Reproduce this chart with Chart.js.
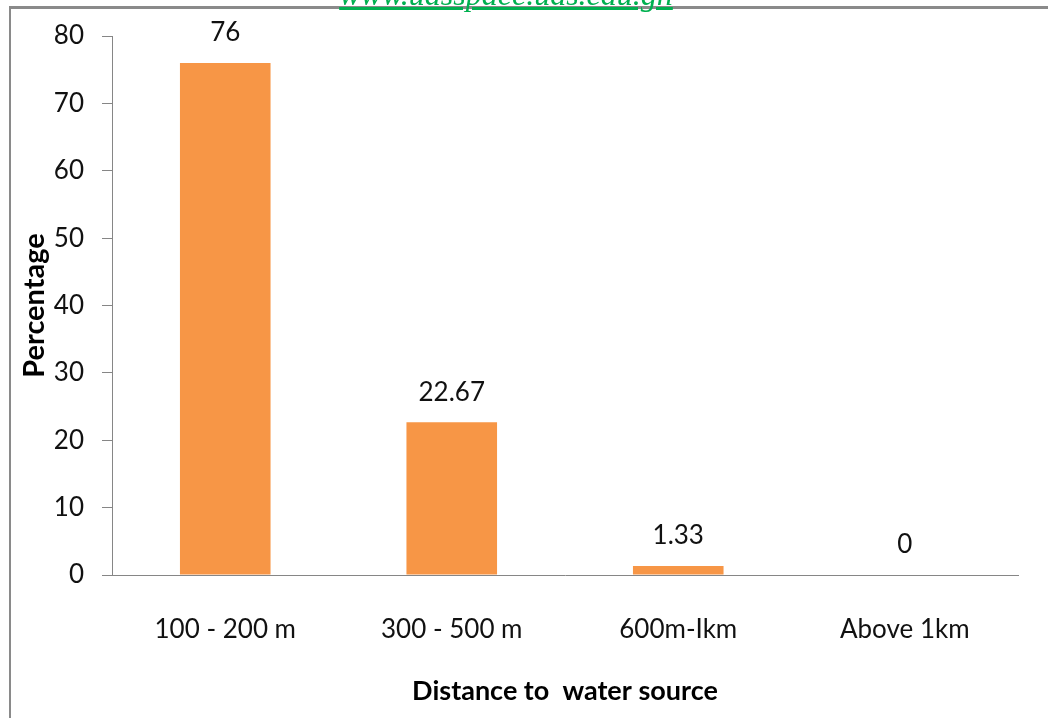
<!DOCTYPE html>
<html>
<head>
<meta charset="utf-8">
<script src="https://cdn.jsdelivr.net/npm/chart.js@4"></script>
<style>
  html, body { margin: 0; padding: 0; background: #fff; }
  #wrap { position: relative; width: 1048px; height: 718px; overflow: hidden; }
  #frame { position: absolute; left: 9px; top: 6px; width: 1100px; height: 800px;
           border-left: 2px solid #8a8a8a; border-top: 3px solid #8a8a8a; }
  #mark { position: absolute; left: 330px; top: -24px; width: 352px; text-align: center;
          font-family: "Liberation Serif", serif; font-style: italic; font-size: 32px;
          color: #00b050; text-decoration: underline; white-space: nowrap; }
</style>
</head>
<body>
<div id="wrap">
  <div id="frame"></div>
  <canvas id="distanceChart" width="1048" height="718"></canvas>
  <div id="mark">www.udsspace.uds.edu.gh</div>
</div>
<script>
// Chart values
const distances = ['100 - 200 m', '300 - 500 m', '600m-Ikm', 'Above 1km'];
const percentages = [76, 22.67, 1.33, 0];
const yTicks = [0, 10, 20, 30, 40, 50, 60, 70, 80];

const fontFamily = 'Lato, "Open Sans", sans-serif';
const axisGrey = '#868686';

// Draw the value above every bar
const valueLabels = {
    id: 'valueLabels',
    afterDatasetsDraw(chart) {
        const ctx = chart.ctx;
        const meta = chart.getDatasetMeta(0);
        ctx.save();
        ctx.font = '26px ' + fontFamily;
        ctx.fillStyle = '#111';
        ctx.textAlign = 'center';
        ctx.textBaseline = 'bottom';
        meta.data.forEach((bar, i) => {
            ctx.fillText(String(percentages[i]), bar.x, bar.y - 17);
        });
        ctx.restore();
    }
};

const ctx = document.getElementById('distanceChart').getContext('2d');
const distanceChart = new Chart(ctx, {
    type: 'bar',
    data: {
        labels: distances,
        datasets: [{
            label: 'Percentage',
            data: percentages,
            backgroundColor: '#f79646',
            borderWidth: 0,
            barPercentage: 0.4,
            categoryPercentage: 1.0
        }]
    },
    options: {
        responsive: false,
        animation: false,
        layout: {
            padding: { left: 10, right: 30, top: 36, bottom: 0 }
        },
        plugins: {
            legend: { display: false },
            tooltip: { enabled: false }
        },
        scales: {
            y: {
                min: 0,
                max: 80,
                afterBuildTicks: (scale) => {
                    scale.ticks = yTicks.map(v => ({ value: v }));
                },
                afterFit: (scale) => { scale.width = 102; },
                grid: {
                    drawOnChartArea: false,
                    color: axisGrey,
                    tickLength: 10
                },
                border: { display: true, color: axisGrey, width: 1 },
                ticks: {
                    padding: 18,
                    color: '#111',
                    font: { family: fontFamily, size: 26 }
                },
                title: {
                    display: true,
                    text: 'Percentage',
                    color: '#000',
                    font: { family: fontFamily, size: 29, weight: 'bold' },
                    padding: { top: 7, bottom: 0 }
                }
            },
            x: {
                afterFit: (scale) => { scale.height = 143; },
                grid: { display: false, drawTicks: false },
                border: { display: true, color: axisGrey, width: 1 },
                ticks: {
                    padding: 39,
                    color: '#111',
                    font: { family: fontFamily, size: 26 }
                },
                title: {
                    display: true,
                    text: 'Distance to  water source',
                    color: '#000',
                    font: { family: fontFamily, size: 27, weight: 'bold' },
                    padding: { top: 5, bottom: 11 }
                }
            }
        }
    },
    plugins: [valueLabels]
});
</script>
</body>
</html>
